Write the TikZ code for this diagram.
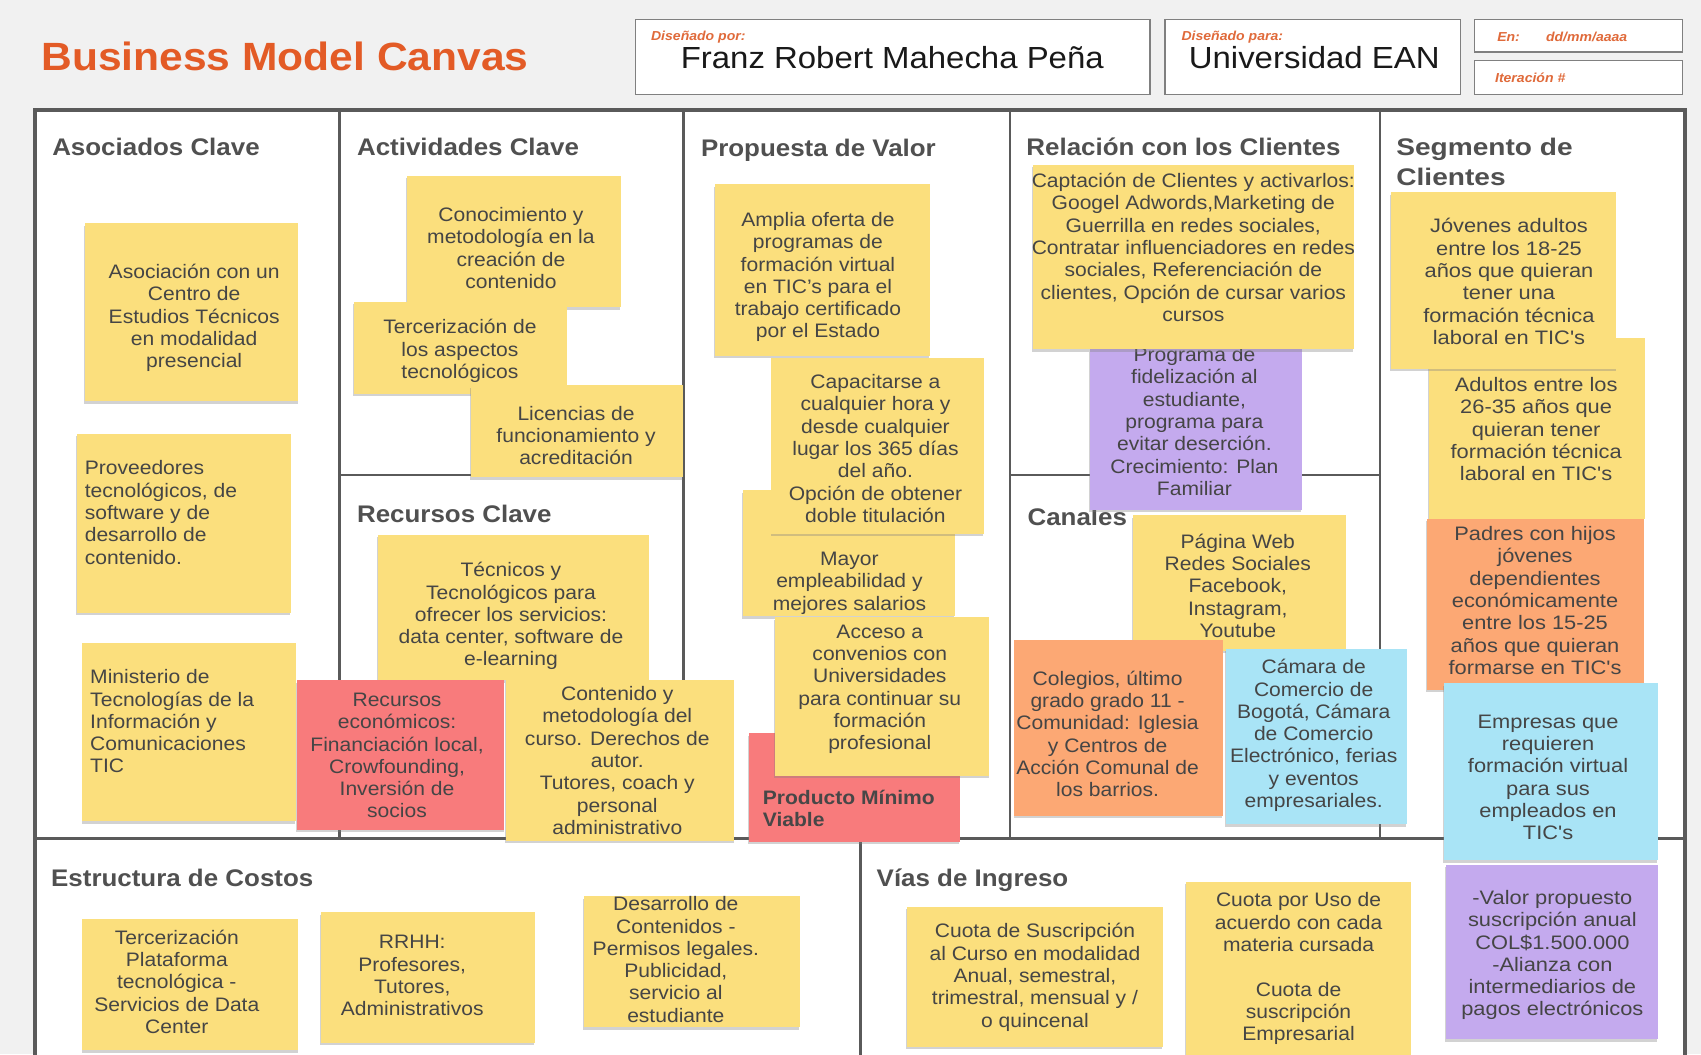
\documentclass[tikz,border=0pt]{standalone}
\usepackage{fontspec}
\setmainfont{Liberation Sans}[FakeStretch=1.08]
\newfontfamily\widefont{Liberation Sans}[FakeStretch=1.12]
\newfontfamily\segfont{Liberation Sans}[FakeStretch=1.17]
\usetikzlibrary{shadows}
\definecolor{bgc}{HTML}{F1F1F1}
\definecolor{framec}{HTML}{5A5A5A}
\definecolor{yel}{HTML}{FBDF7D}
\definecolor{redn}{HTML}{F87B7C}
\definecolor{purp}{HTML}{C4AAEE}
\definecolor{oran}{HTML}{FCA874}
\definecolor{cyn}{HTML}{A9E4F6}
\definecolor{ttl}{HTML}{E35B26}
\definecolor{lbl}{HTML}{E06A3A}
\definecolor{secc}{HTML}{505050}
\definecolor{txt}{HTML}{454545}
\tikzset{
  note/.style={drop shadow={opacity=0.35,shadow xshift=-0.8pt,shadow yshift=-2.5pt}},
  nt/.style={inner sep=0pt, align=center, text=txt, font=\fontsize{19.5}{22.3}\selectfont},
  ntl/.style={nt, align=left, anchor=west},
  wt/.style={nt, font=\widefont\fontsize{19.5}{22.3}\selectfont},
  sect/.style={anchor=base west, inner sep=0pt, text=secc, font=\bfseries\fontsize{24}{28}\selectfont},
  divl/.style={draw=framec, line width=2.5pt},
  hbox/.style={draw=black!50, line width=1.3pt, fill=white},
  hlbl/.style={anchor=base west, inner sep=0pt, text=lbl, font=\itshape\bfseries\fontsize{13}{15}\selectfont},
  hname/.style={anchor=base, inner sep=0pt, text=black!90, font=\fontsize{30.5}{34}\selectfont},
}
\begin{document}
\begin{tikzpicture}[x=1.0848pt,y=-1.0848pt]
\useasboundingbox (0,0) rectangle (1568,972);
\clip (0,0) rectangle (1568,972);
\fill[bgc] (0,0) rectangle (1568,972);

% header
\node[anchor=base west, inner sep=0pt, text=ttl, font=\bfseries\fontsize{39.4}{44}\selectfont] (title) at (38,65) {Business Model Canvas};
\draw[hbox] (586,18) rectangle (1060,87);
\node[hlbl] (lpor) at (600,37) {Diseñado por:};
\node[hname] (name) at (822.5,63) {Franz Robert Mahecha Peña};
\draw[hbox] (1074,18) rectangle (1346,87);
\node[hlbl] (lpara) at (1089,37) {Diseñado para:};
\node[hname] (univ) at (1211.5,63) {Universidad EAN};
\draw[hbox] (1359,18) rectangle (1551,48);
\node[hlbl] (len) at (1380,38) {En:};
\node[hlbl] (ldate) at (1425,38) {dd/mm/aaaa};
\draw[hbox] (1359,56) rectangle (1551,87);
\node[hlbl] (liter) at (1378,76) {Iteración \#};

% canvas frame
\draw[framec, line width=4pt, fill=white] (32,101) rectangle (1553,1010);
\draw[divl] (313,101) -- (313,773);
\draw[divl] (630,101) -- (630,773);
\draw[divl] (931,101) -- (931,773);
\draw[divl] (1272,101) -- (1272,773);
\draw[divl] (313,438) -- (630,438);
\draw[divl] (931,438) -- (1272,438);
\draw[divl] (32,773) -- (1553,773);
\draw[divl] (793,773) -- (793,1010);

% section titles
\node[sect] (s1) at (48,143) {Asociados Clave};
\node[sect] (s2) at (329,143) {Actividades Clave};
\node[sect] (s3) at (646,144) {Propuesta de Valor};
\node[sect] (s4) at (946,143) {Relación con los Clientes};
\node[sect, align=left, font=\segfont\bfseries\fontsize{24}{30.4}\selectfont] (s5) at (1287,171) {Segmento de\\Clientes};
\node[sect] (s6) at (329,482) {Recursos Clave};
\node[sect] (s7) at (947,484) {Canales};
\node[sect] (s8) at (47,817) {Estructura de Costos};
\node[sect] (s9) at (808,817) {Vías de Ingreso};

% Asociados Clave
\fill[yel,note] (78,206) rectangle (275,370);
\node[nt] (n1) at (179,293) {Asociación con un\\Centro de\\Estudios Técnicos\\en modalidad\\presencial};
\fill[yel,note] (71,400) rectangle (268,565);
\node[ntl] (n2) at (78,472.5) {Proveedores\\tecnológicos, de\\software y de\\desarrollo de\\contenido.};
\fill[yel,note] (76,593) rectangle (273,757);
\node[ntl] (n3) at (83,665) {Ministerio de\\Tecnologías de la\\Información y\\Comunicaciones\\TIC};

% Actividades Clave
\fill[yel,note] (375,162) rectangle (572,283);
\node[nt] (n4) at (471,228.5) {Conocimiento y\\metodología en la\\creación de\\contenido};
\fill[yel,note] (326,278) rectangle (523,363);
\node[nt] (n5) at (424,323.5) {Tercerización de\\los aspectos\\tecnológicos};
\fill[yel,note] (434,355) rectangle (630,440);
\node[nt] (n6) at (531,401.5) {Licencias de\\funcionamiento y\\acreditación};

% Recursos Clave
\fill[yel,note] (348,493) rectangle (598,627);
\node[nt] (n7) at (471,568) {Técnicos y\\Tecnológicos para\\ofrecer los servicios:\\data center, software de\\e-learning};
\fill[redn,note] (274,627) rectangle (465,765);
\node[nt] (n8) at (366,696.5) {Recursos\\económicos:\\Financiación local,\\Crowfounding,\\Inversión de\\socios};
\fill[yel,note] (466,627) rectangle (677,775);
\node[nt] (n9) at (569,701) {Contenido y\\metodología del\\curso. Derechos de\\autor.\\Tutores, coach y\\personal\\administrativo};

% Propuesta de Valor
\fill[yel,note] (659,170) rectangle (857,328);
\node[nt] (n10) at (754,255.5) {Amplia oferta de\\programas de\\formación virtual\\en TIC's para el\\trabajo certificado\\por el Estado};
\fill[yel,note] (685,452) rectangle (880,568);
\node[nt] (n12) at (783,537.5) {Mayor\\empleabilidad y\\mejores salarios};
\fill[yel,note] (711,330) rectangle (907,492);
\node[nt] (n11) at (807,413.5) {Capacitarse a\\cualquier hora y\\desde cualquier\\lugar los 365 días\\del año.\\Opción de obtener\\doble titulación};
\fill[redn,note] (690,676) rectangle (885,776);
\node[ntl, font=\bfseries\fontsize{19.5}{22.3}\selectfont, text=black!72] (n13) at (703,745.5) {Producto Mínimo\\Viable};
\fill[yel,note] (714,569) rectangle (912,715);
\node[nt] (n14) at (811,635.5) {Acceso a\\convenios con\\Universidades\\para continuar su\\formación\\profesional};

% Relacion con los clientes
\fill[purp,note] (1005,322) rectangle (1200,470);
\node[nt] (n16) at (1101,388.5) {Programa de\\fidelización al\\estudiante,\\programa para\\evitar deserción.\\Crecimiento: Plan\\Familiar};
\fill[yel,note] (952,152) rectangle (1248,322);
\node[nt] (n15) at (1100,228) {Captación de Clientes y activarlos:\\Googel Adwords,Marketing de\\Guerrilla en redes sociales,\\Contratar influenciadores en redes\\sociales, Referenciación de\\clientes, Opción de cursar varios\\cursos};

% Canales
\fill[yel,note] (1044,475) rectangle (1241,600);
\node[nt] (n17) at (1141,540) {Página Web\\Redes Sociales\\Facebook,\\Instagram,\\Youtube};
\fill[oran,note] (935,590) rectangle (1127,752);
\node[nt] (n18) at (1021,676.5) {Colegios, último\\grado grado 11 -\\Comunidad: Iglesia\\y Centros de\\Acción Comunal de\\los barrios.};
\fill[cyn,note] (1130,598) rectangle (1297,760);
\node[nt] (n19) at (1211,678) {Cámara de\\Comercio de\\Bogotá, Cámara\\de Comercio\\Electrónico, ferias\\y eventos\\empresariales.};

% Segmento de clientes
\fill[yel,note] (1317,312) rectangle (1516,478);
\node[wt] (n21) at (1416,395.5) {Adultos entre los\\26-35 años que\\quieran tener\\formación técnica\\laboral en TIC's};
\fill[yel,note] (1282,177) rectangle (1490,340);
\node[wt] (n20) at (1391,259.5) {Jóvenes adultos\\entre los 18-25\\años que quieran\\tener una\\formación técnica\\laboral en TIC's};
\fill[oran,note] (1315,478) rectangle (1515,636);
\node[wt] (n22) at (1415,553.5) {Padres con hijos\\jóvenes\\dependientes\\económicamente\\entre los 15-25\\años que quieran\\formarse en TIC's};
\fill[cyn,note] (1331,630) rectangle (1528,793);
\node[wt] (n23) at (1427,716.5) {Empresas que\\requieren\\formación virtual\\para sus\\empleados en\\TIC's};
\fill[purp,note] (1333,797) rectangle (1528,958);
\node[wt] (n24) at (1431,880.5) {-Valor propuesto\\suscripción anual\\COL\$1.500.000\\-Alianza con\\intermediarios de\\pagos electrónicos};

% Estructura de costos
\fill[yel,note] (76,847) rectangle (275,968);
\node[nt] (n25) at (163,905) {Tercerización\\Plataforma\\tecnológica -\\Servicios de Data\\Center};
\fill[yel,note] (296,841) rectangle (493,961);
\node[nt] (n26) at (380,899.5) {RRHH:\\Profesores,\\Tutores,\\Administrativos};
\fill[yel,note] (538,826) rectangle (737,947);
\node[nt] (n27) at (623,884.5) {Desarrollo de\\Contenidos -\\Permisos legales.\\Publicidad,\\servicio al\\estudiante};

% Vias de ingreso
\fill[yel,note] (836,836) rectangle (1072,965);
\node[nt] (n28) at (954,901) {Cuota de Suscripción\\al Curso en modalidad\\Anual, semestral,\\trimestral, mensual y /\\o quincenal};
\fill[yel,note] (1093,813) rectangle (1301,980);
\node[nt] (n29) at (1197,893) {Cuota por Uso de\\acuerdo con cada\\materia cursada\\~\\Cuota de\\suscripción\\Empresarial};
\end{tikzpicture}
\end{document}
